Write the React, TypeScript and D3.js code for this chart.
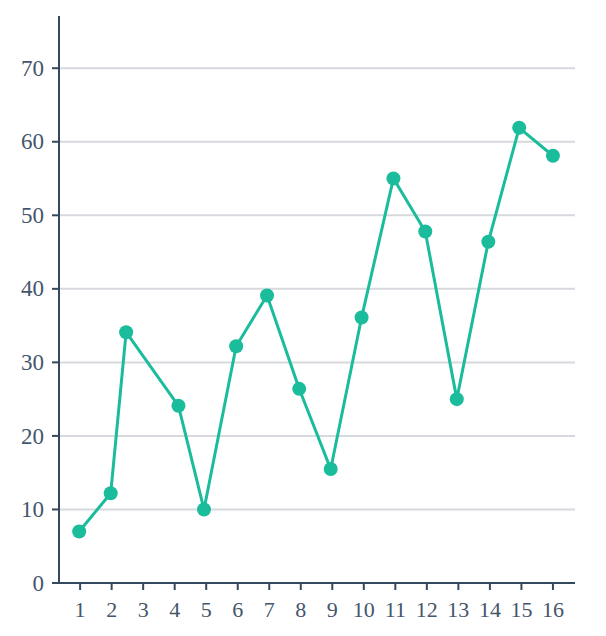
import * as d3 from "d3";

// x positions (not all land on a tick)
const xValues = [0.97, 1.97, 2.46, 4.12, 4.93, 5.95, 6.93, 7.95, 8.95, 9.93, 10.94, 11.95, 12.95, 13.95, 14.93, 16.0];
const yValues = [7.0, 12.2, 34.1, 24.1, 10.0, 32.2, 39.1, 26.4, 15.5, 36.1, 55.0, 47.8, 25.0, 46.4, 61.9, 58.1];
const xTicks = [1, 2, 3, 4, 5, 6, 7, 8, 9, 10, 11, 12, 13, 14, 15, 16];
const yTicks = [0, 10, 20, 30, 40, 50, 60, 70];

const width = 606;
const height = 636;
const marginLeft = 59;
const marginRight = 31;
const marginTop = 16;
const marginBottom = 53;

const lineColor = "#1abc9c";
const axisColor = "#34495e";
const labelColor = "#44566b";
const gridColor = "#d6d9dd";
const font = "'Liberation Serif', serif";

export default function App() {
    const xScale = d3.scaleLinear()
        .domain([0.33, 16.7])
        .range([marginLeft, width - marginRight]);

    const yScale = d3.scaleLinear()
        .domain([0, 77.1])
        .range([height - marginBottom, marginTop]);

    const points = xValues.map((x, i) => ({ x, y: yValues[i] }));

    const line = d3.line<{ x: number; y: number }>()
        .x(d => xScale(d.x))
        .y(d => yScale(d.y));

    const x0 = xScale.range()[0];
    const x1 = xScale.range()[1];
    const yBase = yScale(0);

    return (
        <svg width={width} height={height} style={{ position: "absolute", left: 0, top: 0 }}>
            {/* gridlines */}
            {yTicks.filter(t => t > 0).map(t => (
                <line key={"g" + t} x1={x0} x2={x1} y1={yScale(t)} y2={yScale(t)}
                      stroke={gridColor} strokeWidth={2} />
            ))}

            {/* y axis */}
            <line x1={x0} x2={x0} y1={yScale.range()[1]} y2={yBase} stroke={axisColor} strokeWidth={2} />
            {yTicks.map(t => (
                <g key={"y" + t} transform={`translate(0, ${yScale(t)})`}>
                    <line x1={x0 - 7} x2={x0} stroke={axisColor} strokeWidth={2} />
                    <text x={x0 - 15} dy="0.33em" textAnchor="end" fill={labelColor}
                          fontFamily={font} fontSize={23}>{t}</text>
                </g>
            ))}

            {/* x axis */}
            <line x1={x0} x2={x1} y1={yBase} y2={yBase} stroke={axisColor} strokeWidth={2} />
            {xTicks.map(t => (
                <g key={"x" + t} transform={`translate(${xScale(t)}, ${yBase})`}>
                    <line y1={0} y2={7} stroke={axisColor} strokeWidth={2} />
                    <text y={34} textAnchor="middle" fill={labelColor}
                          fontFamily={font} fontSize={22}>{t}</text>
                </g>
            ))}

            {/* series */}
            <path d={line(points) ?? ""} fill="none" stroke={lineColor} strokeWidth={3} />
            {points.map((d, i) => (
                <circle key={i} cx={xScale(d.x)} cy={yScale(d.y)} r={7} fill={lineColor} />
            ))}
        </svg>
    );
}
